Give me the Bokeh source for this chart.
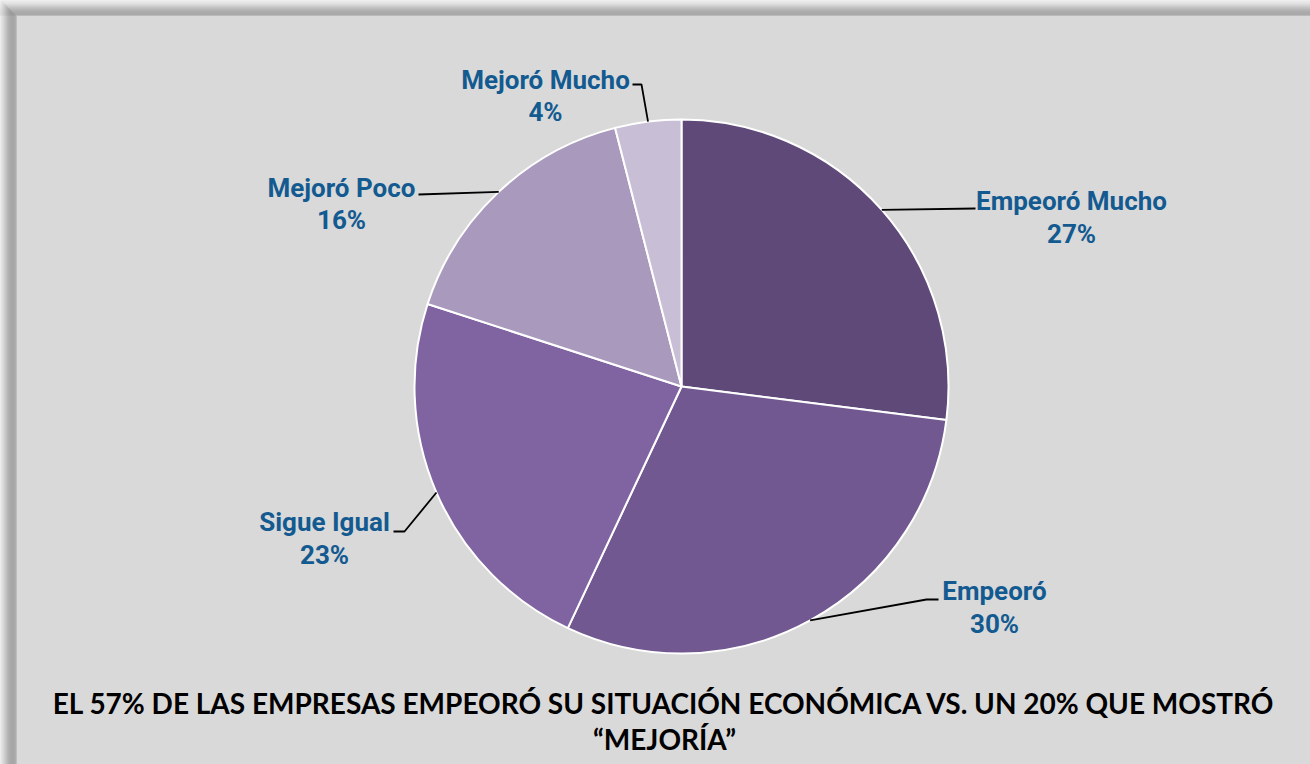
import math
from bokeh.plotting import figure
from bokeh.models import Range1d
from bokeh.core.properties import value
from bokeh.embed import file_html
from bokeh.resources import INLINE

# ---------------- data ----------------
categories = ["Empeoró Mucho", "Empeoró", "Sigue Igual", "Mejoró Poco", "Mejoró Mucho"]
percents = [27, 30, 23, 16, 4]
title_lines = ["EL 57% DE LAS EMPRESAS EMPEORÓ SU SITUACIÓN ECONÓMICA VS. UN 20% QUE MOSTRÓ",
               "\u201cMEJORÍA\u201d"]

# ---------------- styles / layout ----------------
colors = ["#5e4979", "#725891", "#8064a2", "#a99abd", "#c8bfd6"]
label_color = "#135a91"
W, H = 1310, 764
def X(rx):
    return rx
def Y(ry):
    return H - ry

CX, CY, R = 681, 386, 267  # page pixel coords
# label text centre x, line1 y, line2 y
label_pos = [(1071, 200, 233), (994, 590, 623), (324, 521, 554), (341, 187, 219), (545, 79, 111)]
leader_start = [(975, 208), (938, 599), (393, 531), (418, 194), (632, 84)]
elbow_dx = [0, -12, 11, 0, 9]

p = figure(width=W, height=H, output_backend="svg", toolbar_location=None,
           x_range=Range1d(0, W), y_range=Range1d(0, H), min_border=0,
           background_fill_color="#d9d9d9", border_fill_color="#d9d9d9")
p.axis.visible = False
p.grid.visible = False
p.outline_line_color = None

# frame shadow bands
def gray(v):
    return "#%02x%02x%02x" % (v, v, v)
top_vals = [242, 238, 232, 225, 216, 206, 196, 186, 177, 169, 162, 157, 154, 153, 156]
for i, g in enumerate(top_vals):
    p.quad(left=0, right=W, top=H - i, bottom=H - i - 1, fill_color=gray(g), line_color=None)
left_vals = [235, 228, 220, 210, 200, 190, 180, 170, 162, 156, 152, 150, 150, 151, 153, 162]
for i, g in enumerate(left_vals):
    top_i = H - min(i, len(top_vals))
    p.quad(left=i, right=i + 1, top=top_i, bottom=0, fill_color=gray(g), line_color=None)

# pie
total = sum(percents)
starts, ends, mids = [], [], []
a = math.pi / 2
for v in percents:
    span = 2 * math.pi * v / total
    starts.append(a)
    ends.append(a - span)
    mids.append(a - span / 2)
    a -= span

p.wedge(x=X(CX), y=Y(CY), radius=R, radius_units="screen",
        start_angle=starts, end_angle=ends, direction="clock",
        fill_color=colors, line_color="white", line_width=2)

# leader lines
for i in range(len(categories)):
    ex = CX + R * math.cos(mids[i])
    ey = CY - R * math.sin(mids[i])
    sx, sy = leader_start[i]
    xs = [X(sx), X(sx + elbow_dx[i]), X(ex)]
    ys = [Y(sy), Y(sy), Y(ey)]
    p.line(xs, ys, line_color="black", line_width=1.8)

# labels
font = value("Roboto")
for i, cat in enumerate(categories):
    lx, ly1, ly2 = label_pos[i]
    p.text(x=[X(lx), X(lx)], y=[Y(ly1), Y(ly2)], text=[cat, f"{percents[i]}%"],
           text_font=font, text_font_style="bold", text_font_size="26px",
           text_color=label_color, text_align="center", text_baseline="middle")

# title
p.text(x=[X(664), X(664)], y=[Y(702), Y(738)], text=title_lines,
       text_font=value("Lato"), text_font_style="bold", text_font_size="28px",
       text_color="black", text_align="center", text_baseline="middle")

open("out.html", "w").write(file_html(p, INLINE))
